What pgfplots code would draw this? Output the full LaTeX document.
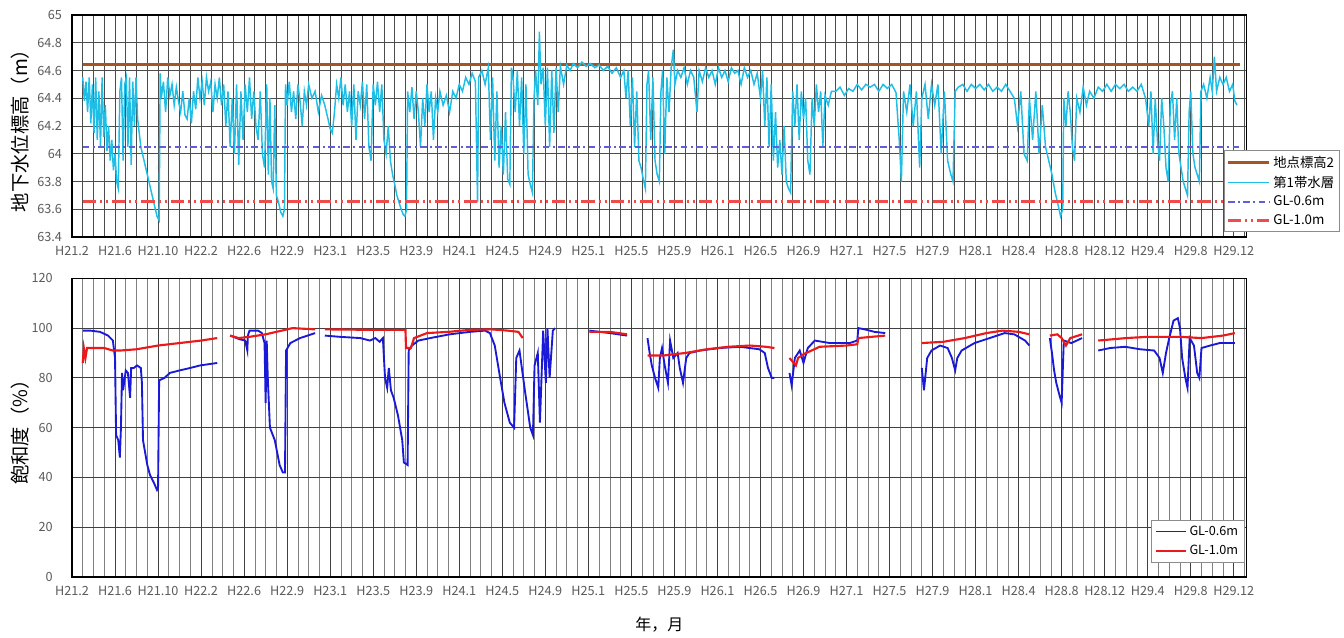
\documentclass[border=0pt]{standalone}
\usepackage{pgfplots}
\pgfplotsset{compat=1.18}
\usepackage{fontspec}
\setmainfont{Noto Sans CJK JP}

\definecolor{brownline}{RGB}{165,85,35}
\definecolor{cyanline}{RGB}{30,190,230}
\definecolor{glsix}{RGB}{95,95,215}
\definecolor{glten}{RGB}{240,75,75}
\definecolor{blueline}{RGB}{25,25,215}
\definecolor{redline}{RGB}{235,25,25}
\definecolor{ticktext}{RGB}{90,90,90}

\pgfplotsset{
  panel/.style={
    scale only axis, width=881pt,
    xmin=0, xmax=109.2,
    xtick={0,4,...,108},
    xticklabels={H21.2,H21.6,H21.10,H22.2,H22.6,H22.9,H23.1,H23.5,H23.9,H24.1,H24.5,H24.9,H25.1,H25.5,H25.9,H26.1,H26.5,H26.9,H27.1,H27.5,H27.9,H28.1,H28.4,H28.8,H28.12,H29.4,H29.8,H29.12},
    minor xtick={1,...,109},
    grid=both,
    major tick length=0pt, minor tick length=0pt,
    axis line style={black, line width=1pt},
    ticklabel style={font=\fontsize{9.5}{11}\selectfont, text=ticktext},
    xticklabel style={yshift=-3.5pt},
    /pgf/number format/assume math mode=true,
    every axis y label/.style={at={(axis description cs:-0.0443,0.5)}, rotate=90, anchor=center},
    ylabel style={font=\fontsize{14.5}{17}\selectfont},
    legend cell align=left,
  },
}

\begin{document}
\begin{tikzpicture}
\useasboundingbox (-54pt,-45pt) rectangle (954pt,432.75pt);

% 上段：地下水位標高
\begin{axis}[panel,
  at={(0pt,255pt)}, height=166.5pt,
  ymin=63.4, ymax=65,
  ytick={63.4,63.6,63.8,64,64.2,64.4,64.6,64.8,65},
  yticklabel style={xshift=-4pt},
  major grid style={black!70, line width=0.6pt},
  minor grid style={black!70, line width=0.6pt},
  ylabel={地下水位標高（m）},
  legend style={at={(axis description cs:1.0792,0.0225)}, anchor=south east,
    draw=black!45, fill=white, font=\fontsize{10}{12}\selectfont,
    row sep=1pt, inner sep=2pt},
  legend image code/.code={\draw[#1] (0pt,0pt) -- (31pt,0pt);},
]
\addplot[brownline, line width=2.2pt] coordinates {(1,64.645) (108.6,64.645)};
\addlegendentry{地点標高2}

\addplot[cyanline, line width=1.1pt] coordinates {
(1.0,64.55) (1.15,64.38) (1.3,64.52) (1.45,64.30) (1.6,64.55) (1.75,64.22) (1.9,64.50) (2.05,64.15) (2.2,64.55) (2.35,64.10) (2.5,64.45) (2.65,64.05) (2.8,64.55) (2.95,64.12) (3.1,64.35) (3.25,64.02) (3.4,64.20) (3.55,63.95) (3.7,64.10) (3.85,63.88) (4.0,64.00) (4.15,63.80) (4.3,63.75) (4.45,64.45) (4.6,64.55) (4.75,63.95) (4.9,64.50) (5.05,64.55) (5.2,64.05) (5.35,64.55) (5.5,63.92) (5.65,64.52) (5.8,64.20) (5.95,64.55) (6.1,64.25) (6.25,64.15) (6.4,64.05) (6.7,63.95) (7.0,63.85) (7.3,63.75) (7.6,63.65) (7.9,63.55) (8.1,63.52) (8.2,64.58)
(8.3,64.40) (8.5,64.52) (8.7,64.30) (8.9,64.55) (9.1,64.42) (9.3,64.50) (9.5,64.35) (9.7,64.48) (9.9,64.38) (10.1,64.30) (10.3,64.45) (10.5,64.28) (10.7,64.25) (10.9,64.40) (11.1,64.22) (11.3,64.45) (11.5,64.32) (11.7,64.55) (11.9,64.40) (12.1,64.52) (12.3,64.35) (12.5,64.55) (12.7,64.45) (12.9,64.52) (13.1,64.30) (13.3,64.50) (13.5,64.40) (13.7,64.55) (13.9,64.35) (14.1,64.50) (14.3,64.20) (14.5,64.45) (14.7,64.05) (14.9,64.40) (15.1,64.00) (15.3,64.50) (15.5,63.92) (15.7,64.45) (15.9,64.10) (16.1,64.50) (16.3,64.30) (16.5,64.55) (16.7,64.25) (16.9,64.45)
(17.1,64.20) (17.3,64.10) (17.5,64.45) (17.7,64.00) (17.9,63.90) (18.1,64.50) (18.25,63.85) (18.4,64.40) (18.55,63.80) (18.7,63.75) (18.85,64.35) (19.0,63.70) (19.2,63.65) (19.4,63.58) (19.6,63.55) (19.75,63.60) (19.85,64.50)
(20.0,64.35) (20.2,64.52) (20.4,64.30) (20.6,64.45) (20.8,64.25) (21.0,64.50) (21.2,64.38) (21.4,64.20) (21.6,64.45) (21.8,64.35) (22.0,64.50) (22.3,64.40) (22.6,64.45) (22.9,64.30) (23.2,64.42) (23.5,64.35) (23.8,64.25) (24.0,64.18) (24.2,64.15) (24.4,64.30)
(24.6,64.50) (24.8,64.40) (25.0,64.55) (25.2,64.35) (25.4,64.50) (25.6,64.30) (25.8,64.45) (26.0,64.20) (26.2,64.50) (26.4,64.10) (26.6,64.45) (26.8,64.35) (27.0,64.52) (27.2,64.25) (27.4,64.50) (27.6,64.05) (27.8,63.95) (28.0,64.50) (28.2,64.35) (28.4,64.52) (28.6,64.30) (28.8,64.50) (29.0,64.10) (29.2,64.00)
(29.4,64.20) (29.6,63.95) (29.8,63.85) (30.0,63.78) (30.2,63.70) (30.4,63.65) (30.6,63.60) (30.8,63.56) (30.95,63.55) (31.1,63.60) (31.2,64.45)
(31.4,64.30) (31.6,64.48) (31.8,64.25) (32.0,64.45) (32.2,64.30) (32.4,64.05) (32.6,64.40) (32.8,64.20) (33.0,64.50) (33.2,64.30) (33.4,64.45) (33.6,64.10) (33.8,64.40) (34.0,64.30) (34.2,64.45) (34.5,64.35) (34.8,64.42) (35.1,64.30) (35.4,64.45) (35.7,64.40) (36.0,64.50) (36.3,64.45)
(36.6,64.55) (36.9,64.50) (37.2,64.58) (37.5,64.52) (37.7,63.65) (37.8,64.55) (38.1,64.60) (38.4,64.50) (38.7,64.62) (38.9,64.10) (39.1,64.55) (39.3,63.95) (39.5,64.45) (39.7,63.90) (39.9,64.20) (40.1,63.85) (40.3,64.30) (40.5,63.82) (40.7,63.78) (40.85,64.62)
(41.0,64.55) (41.2,64.30) (41.4,64.60) (41.6,64.20) (41.8,64.55) (42.0,64.00) (42.2,64.50) (42.4,63.85) (42.6,63.78) (42.8,63.72) (42.95,64.40) (43.1,64.60) (43.3,64.35) (43.45,64.88) (43.6,64.50) (43.8,64.62) (44.0,64.20) (44.2,64.62) (44.4,64.05) (44.6,64.60) (44.8,64.15) (45.0,64.62)
(45.2,64.30) (45.4,64.63) (45.7,64.50) (46.0,64.64) (46.3,64.60) (46.6,64.65) (47.0,64.62) (47.4,64.66) (47.8,64.63) (48.2,64.65) (48.6,64.62) (49.0,64.64) (49.4,64.60) (49.8,64.63) (50.2,64.58) (50.6,64.62) (51.0,64.55) (51.3,64.60)
(51.5,64.40) (51.7,64.60) (51.9,64.20) (52.1,64.55) (52.3,64.05) (52.5,64.45) (52.7,63.95) (52.9,63.90) (53.1,63.82) (53.3,63.75) (53.45,64.50) (53.6,64.60) (53.8,64.10) (54.0,64.55) (54.2,63.95) (54.4,63.85) (54.6,63.80) (54.75,64.45) (54.9,64.60) (55.1,64.00) (55.3,64.55) (55.5,64.30) (55.7,64.62) (55.9,64.75) (56.05,64.50)
(56.3,64.60) (56.6,64.55) (56.9,64.62) (57.2,64.50) (57.5,64.60) (57.8,64.55) (58.1,64.30) (58.3,64.60) (58.6,64.52) (58.9,64.62) (59.2,64.55) (59.5,64.60) (59.8,64.50) (60.1,64.62) (60.4,64.55) (60.7,64.60) (61.0,64.52) (61.3,64.62) (61.6,64.58) (61.9,64.60) (62.2,64.50) (62.5,64.62) (62.8,64.55) (63.1,64.60) (63.4,64.50) (63.7,64.58)
(64.0,64.40) (64.2,64.60) (64.4,64.20) (64.6,64.55) (64.8,64.05) (65.0,64.50) (65.2,63.95) (65.4,64.30) (65.6,63.90) (65.8,64.10) (66.0,63.85) (66.2,64.20) (66.4,63.80) (66.6,63.75) (66.8,63.72)
(67.0,64.45) (67.2,64.20) (67.4,64.50) (67.6,64.10) (67.8,64.45) (68.0,64.25) (68.2,64.40) (68.4,63.95) (68.6,63.85) (68.8,64.40) (69.0,64.20) (69.2,64.50) (69.4,64.30) (69.6,64.45) (69.8,64.05) (70.0,64.42) (70.3,64.35) (70.6,64.45)
(71.0,64.45) (71.4,64.48) (71.8,64.42) (72.2,64.47) (72.6,64.45) (73.0,64.50) (73.4,64.46) (73.8,64.50) (74.2,64.48) (74.6,64.50) (75.0,64.45) (75.4,64.50) (75.8,64.47) (76.2,64.50) (76.6,64.44)
(76.9,64.10) (77.1,63.80) (77.3,64.45) (77.6,64.30) (77.9,64.50) (78.2,64.20) (78.5,64.45) (78.8,63.90) (79.0,64.40) (79.3,64.50) (79.6,64.25) (79.9,64.50) (80.2,64.35) (80.5,64.50) (80.8,64.00) (81.1,64.45) (81.4,63.95) (81.7,63.85) (81.9,63.80) (82.1,64.45)
(82.4,64.48) (82.8,64.50) (83.2,64.45) (83.6,64.50) (84.0,64.47) (84.4,64.50) (84.8,64.46) (85.2,64.50) (85.6,64.45) (86.0,64.48) (86.4,64.45) (86.8,64.50) (87.2,64.45)
(87.6,64.40) (87.9,64.20) (88.2,64.45) (88.5,64.00) (88.8,63.95) (89.0,64.40) (89.3,64.10) (89.6,64.45) (89.9,64.00) (90.2,64.35) (90.5,64.05) (90.8,63.95) (91.1,63.85) (91.4,63.72) (91.7,63.62) (91.9,63.55) (92.1,63.60)
(92.2,64.40) (92.4,64.20) (92.6,64.45) (92.8,64.30) (93.0,64.05) (93.2,63.95) (93.4,64.40) (93.7,64.30) (94.0,64.48) (94.3,64.35) (94.6,64.45) (95.0,64.40) (95.4,64.48) (95.8,64.45) (96.2,64.50) (96.6,64.45) (97.0,64.50) (97.4,64.47) (97.8,64.50) (98.2,64.45) (98.6,64.48) (99.0,64.45) (99.4,64.50) (99.8,64.40)
(100.1,64.20) (100.3,64.45) (100.5,64.00) (100.7,64.40) (100.9,64.10) (101.1,63.95) (101.3,64.40) (101.5,64.20) (101.7,63.90) (101.9,63.80) (102.1,64.35) (102.3,64.45) (102.5,64.10) (102.7,64.40) (102.9,64.00) (103.1,63.90) (103.3,63.80) (103.5,63.75) (103.7,63.70) (103.85,64.30) (104.0,64.45) (104.2,64.00) (104.4,63.90) (104.6,63.85) (104.8,63.80) (104.95,64.45)
(105.2,64.50) (105.5,64.40) (105.8,64.55) (106.0,64.45) (106.2,64.70) (106.4,64.45) (106.7,64.55) (107.0,64.50) (107.3,64.55) (107.6,64.45) (107.9,64.50) (108.1,64.38) (108.3,64.35)
};
\addlegendentry{第1帯水層}

\addplot[glsix, line width=1.8pt, dash pattern=on 5pt off 2.5pt on 1.5pt off 2.5pt] coordinates {(1,64.05) (108.6,64.05)};
\addlegendentry{GL-0.6m}
\addplot[glten, line width=1.8pt, dash pattern=on 10pt off 3pt on 1.5pt off 3pt on 1.5pt off 3pt] coordinates {(1,63.655) (108.6,63.655)};
\addlegendentry{GL-1.0m}
\end{axis}

% 下段：飽和度
\begin{axis}[panel,
  height=224pt,
  ymin=0, ymax=120,
  ytick={0,20,...,120},
  yticklabel style={xshift=-11pt},
  major grid style={black!75, line width=0.6pt},
  minor grid style={black!50, line width=0.5pt},
  unbounded coords=jump,
  ylabel={飽和度（\%）},
  xlabel={年，月},
  xlabel style={at={(axis description cs:0.5,-0.1607)}, anchor=center, font=\fontsize{12}{14}\selectfont},
  legend style={at={(axis description cs:0.998,0.047)}, anchor=south east,
    draw=black!45, fill=white, font=\fontsize{9.5}{11}\selectfont,
    row sep=2pt, inner sep=2.5pt},
  legend image code/.code={\draw[#1] (0pt,0pt) -- (22.5pt,0pt);},
]
\addplot[blueline, line width=1.4pt] coordinates {
(1.0,99) (1.7,99) (2.6,98.5) (3.35,97) (3.8,95) (4.0,88) (4.1,57) (4.3,55) (4.45,48) (4.55,60) (4.65,82) (4.75,75) (5.0,83) (5.2,82) (5.4,72) (5.5,84) (5.75,84) (6.05,85) (6.4,84) (6.5,78) (6.6,55) (6.8,50) (7.0,45) (7.25,41) (7.6,38) (7.9,35) (8.0,36) (8.1,79) (8.6,80) (9.1,82) (10.0,83) (11.0,84) (11.9,85) (13.5,86)
(13.6,nan)
(14.7,97) (15.6,95.5) (16.1,95) (16.3,91) (16.35,97) (16.5,99) (17.3,99) (17.65,98) (17.9,94) (18.0,70) (18.1,95) (18.2,80) (18.4,60) (18.85,55) (19.3,45) (19.6,42) (19.8,42) (19.9,91) (20.3,94) (21.2,96) (22.6,98)
(22.7,nan)
(23.5,97) (24.9,96.5) (26.8,96) (27.7,95) (28.2,96) (28.6,94.5) (28.9,96) (29.1,80) (29.3,76) (29.45,84) (29.65,75) (29.9,72) (30.3,65) (30.7,55) (30.85,46) (31.2,45) (31.3,91) (31.6,93) (32.2,95) (33.3,96) (35.1,97.5) (37.0,98.5) (38.4,99) (38.85,98) (39.3,93) (39.8,80) (40.2,70) (40.7,62) (41.1,60) (41.3,88) (41.6,91) (42.1,75) (42.6,60) (42.85,57) (43.0,85) (43.3,90) (43.5,62) (43.8,99) (44.05,78) (44.2,100) (44.4,80) (44.7,99) (44.9,100)
(45.0,nan)
(48.1,99) (50.0,98) (51.6,97)
(51.7,nan)
(53.5,96) (53.7,90) (53.9,85) (54.2,80) (54.5,76) (54.65,88) (54.85,92) (55.1,85) (55.4,78) (55.6,95) (55.9,88) (56.3,90) (56.5,84) (56.8,78) (57.1,88) (57.4,90) (58.4,91) (60.2,92) (62.1,92.5) (63.9,91.5) (64.4,90) (64.7,84) (65.05,80) (65.3,80)
(65.4,nan)
(66.7,82) (66.9,77) (67.2,88) (67.65,91) (68.0,86) (68.4,92) (69.05,95) (70.45,94) (72.3,94) (73.0,95) (73.1,100) (73.7,99.5) (74.6,98.5) (75.6,98)
(75.7,nan)
(79.0,84) (79.2,75) (79.5,88) (79.9,91) (80.7,93) (81.4,92) (81.8,88) (82.1,83) (82.3,88) (82.7,91) (83.9,94) (85.3,96) (86.7,98) (87.6,97.5) (88.6,95) (89.0,93)
(89.1,nan)
(90.9,96) (91.1,90) (91.3,83) (91.5,78) (91.8,73) (92.0,70) (92.2,95) (92.9,94) (93.9,96)
(94.0,nan)
(95.4,91) (96.5,92) (97.9,92.5) (99.3,91.5) (100.6,91) (101.1,88) (101.4,82) (101.7,90) (102.0,96) (102.4,103) (102.8,104) (103.0,100) (103.2,88) (103.5,80) (103.7,76) (103.9,96) (104.3,93) (104.6,82) (104.8,80) (105.0,92) (105.8,93) (106.7,94) (108.1,94)
};
\addlegendentry{GL-0.6m}

\addplot[redline, line width=1.6pt] coordinates {
(1.0,86) (1.1,92) (1.25,88) (1.4,92) (3.0,92) (3.8,91) (4.5,91) (6.0,91.5) (8.0,93) (10.0,94) (12.0,95) (13.5,96)
(13.6,nan)
(14.7,97) (15.5,96) (16.5,96.5) (18.0,97.5) (19.5,99) (20.5,100) (22.6,99.5)
(22.7,nan)
(23.5,99.5) (28.0,99.3) (31.0,99.3) (31.05,92) (31.5,92) (31.8,96) (33.0,98) (35.0,98.5) (37.0,99.3) (39.0,99.5) (40.5,99) (41.5,98.5) (41.9,96)
(42.0,nan)
(48.1,98.5) (50.0,98.5) (51.6,97.5)
(51.7,nan)
(53.5,89) (55.0,89) (57.0,90) (59.0,91.5) (61.0,92.5) (63.0,93) (64.5,92.5) (65.3,92)
(65.4,nan)
(66.7,88) (67.3,85) (67.5,88) (68.0,89.5) (69.5,92.5) (72.0,93) (73.0,93.5) (73.1,96) (75.6,97)
(75.7,nan)
(79.0,94) (81.0,94.5) (83.0,96) (85.0,98) (86.5,99) (88.0,98.5) (89.0,97.5)
(89.1,nan)
(90.9,97) (91.6,97.5) (92.0,96) (92.4,93) (92.8,96) (93.9,97.5)
(94.0,nan)
(95.4,95) (98.0,96) (100.0,96.5) (103.0,96.5) (105.0,96) (107.0,97) (108.1,98)
};
\addlegendentry{GL-1.0m}
\end{axis}
\end{tikzpicture}
\end{document}
